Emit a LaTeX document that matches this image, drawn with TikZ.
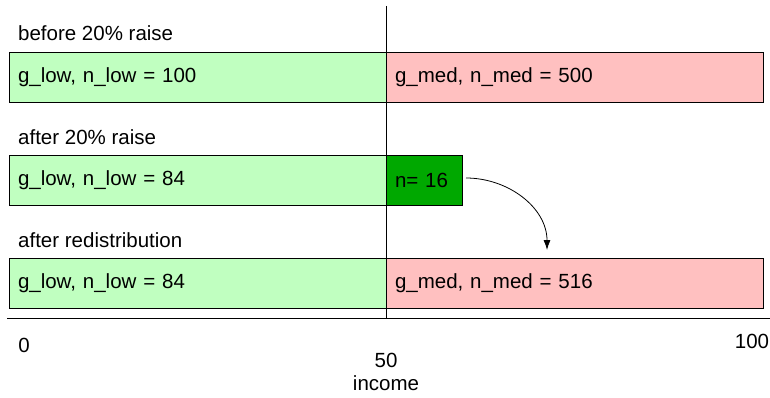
\documentclass[tikz,border=0pt]{standalone}
\usepackage{fontspec}
\setmainfont{Liberation Sans}
\usetikzlibrary{arrows.meta}

\definecolor{lowgreen}{HTML}{C0FFC0}
\definecolor{medred}{HTML}{FFC0C0}
\definecolor{movegreen}{HTML}{00A800}

\begin{document}
\begin{tikzpicture}[x=1pt, y=-1pt, every node/.style={font=\fontsize{20.5}{24}\selectfont},
	bar/.style={draw, line width=0.8pt, anchor=north west, minimum height=50pt, inner xsep=9pt, inner ysep=0pt, outer sep=0pt, align=left},
	lowbar/.style={bar, fill=lowgreen, text width=359pt},
	medbar/.style={bar, fill=medred, text width=359pt},
	movebar/.style={bar, fill=movegreen, text width=58pt},
	rowlabel/.style={anchor=west, inner sep=0pt}]

\useasboundingbox (0,0) rectangle (770,398);

% Row labels
\node[rowlabel] (r1) at (18,33) {before 20\% raise};
\node[rowlabel] (r2) at (18,137) {after 20\% raise};
\node[rowlabel] (r3) at (18,240) {after redistribution};

% Before the raise
\node[lowbar] (low1) at (9,52) {g\_low, n\_low = 100};
\node[medbar] (med1) at (386,52) {g\_med, n\_med = 500};

% After the raise
\node[lowbar] (low2) at (9,155) {g\_low, n\_low = 84};
\node[movebar] (move) at (386,155) {n= 16};

% After redistribution
\node[lowbar] (low3) at (9,258) {g\_low, n\_low = 84};
\node[medbar] (med3) at (386,258) {g\_med, n\_med = 516};

% Split line and axis
\coordinate (top) at (386,6);
\coordinate (mid) at (386,318);
\coordinate (axl) at (7,318);
\coordinate (axr) at (770,318);
\draw[line width=0.8pt] (top) -- (mid);
\draw[line width=0.8pt] (axl) -- (axr);

% Moving the raised people
\coordinate (drop) at (547,250);
\draw[line width=0.8pt, -{Latex[length=10pt, width=7pt]}] ([xshift=4pt, yshift=2pt]move.east) to[out=0, in=90] (drop);

% Axis labels
\node (zero) at (24,345) {0};
\node (hundred) at (752,341) {100};
\node (fifty) at (386,360) {50};
\node (income) at (386,383) {income};

\end{tikzpicture}
\end{document}
